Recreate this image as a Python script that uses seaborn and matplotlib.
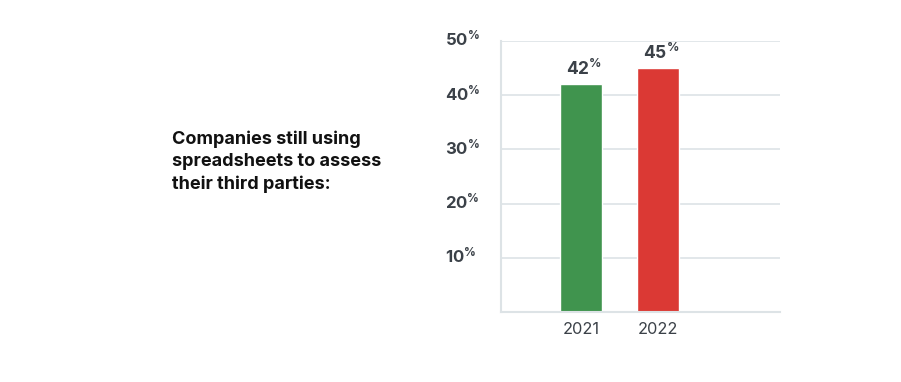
import matplotlib
matplotlib.use("Agg")
import matplotlib.pyplot as plt
import seaborn as sns
import pandas as pd
import matplotlib.transforms as mtransforms

years = ["2021", "2022"]
values = [42, 45]
bar_colors = ["#40944e", "#db3934"]
y_ticks = [10, 20, 30, 40, 50]
title_lines = "Companies still using\nspreadsheets to assess\ntheir third parties:"

sns.set_theme(style="white")
plt.rcParams["font.family"] = ["Inter", "DejaVu Sans"]
plt.rcParams["mathtext.fontset"] = "custom"
plt.rcParams["mathtext.rm"] = "Inter:bold"
plt.rcParams["mathtext.it"] = "Inter:bold"
plt.rcParams["mathtext.bf"] = "Inter:bold"

TXT = "#3b4148"
GRID = "#dde3e6"

df = pd.DataFrame({"year": years, "value": values})

fig = plt.figure(figsize=(9.01, 3.82), dpi=100)
ax = fig.add_axes([501 / 901, 1 - 312 / 382, 279 / 901, 271 / 382])

sns.barplot(data=df, x="year", y="value", hue="year", palette=bar_colors,
            width=0.55, legend=False, ax=ax, saturation=1)

ax.set_ylim(0, 50)
ax.set_xlim(-1.04, 2.58)
ax.set_yticks(y_ticks)
ax.set_yticklabels([])
ax.tick_params(axis="y", length=0)
ax.tick_params(axis="x", length=0, pad=7, labelsize=11.8, labelcolor=TXT)
ax.set_xlabel("")
ax.set_ylabel("")
for y in y_ticks:
    ax.axhline(y, color=GRID, lw=1.2, zorder=0)
for s in ["top", "right"]:
    ax.spines[s].set_visible(False)
for s in ["left", "bottom"]:
    ax.spines[s].set_color(GRID)
    ax.spines[s].set_linewidth(1.5)

# y tick labels with superscript %
trans = mtransforms.blended_transform_factory(fig.transFigure, ax.transData)
for y in y_ticks:
    ax.annotate(f"{y}" + r"$^{\mathrm{\%}}$", xy=(445 / 901, y), xycoords=trans,
                xytext=(0, 1.5), textcoords="offset points",
                ha="left", va="center", fontsize=12, fontweight="bold", color=TXT)

# bar value labels
for i, v in enumerate(values):
    ax.annotate(f"{v}" + r"$^{\mathrm{\%}}$", xy=(i, v), xytext=(2, 4),
                textcoords="offset points", ha="center", va="bottom",
                fontsize=12.5, fontweight="bold", color=TXT)

fig.text(172 / 901, 1 - 131 / 382, title_lines, ha="left", va="top",
         fontsize=13, fontweight="bold", color="#111111", linespacing=1.38)

fig.savefig("out.png", dpi=100)
